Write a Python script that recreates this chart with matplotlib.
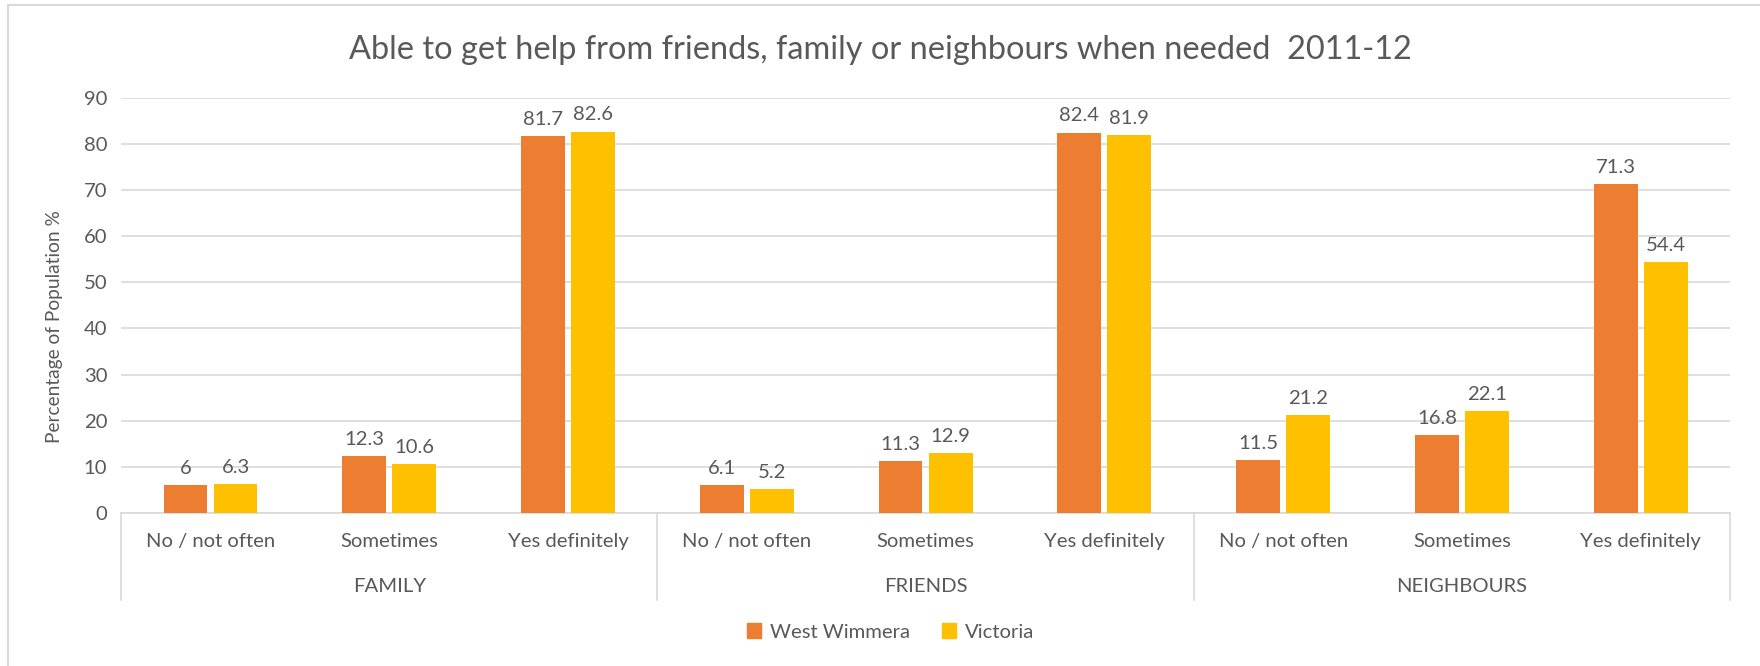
import matplotlib
matplotlib.use("Agg")
import matplotlib.pyplot as plt
from matplotlib.lines import Line2D
from matplotlib.patches import Patch
import numpy as np

groups = ["FAMILY", "FRIENDS", "NEIGHBOURS"]
answers = ["No / not often", "Sometimes", "Yes definitely"]
west_wimmera = [6, 12.3, 81.7, 6.1, 11.3, 82.4, 11.5, 16.8, 71.3]
victoria = [6.3, 10.6, 82.6, 5.2, 12.9, 81.9, 21.2, 22.1, 54.4]
y_ticks = [0, 10, 20, 30, 40, 50, 60, 70, 80, 90]

ORANGE = "#ED7D31"
YELLOW = "#FFC000"
TEXT = "#595959"
GRID = "#D9D9D9"
FS = 14.6

plt.rcParams["font.family"] = ["Lato", "DejaVu Sans"]

fig = plt.figure(figsize=(17.6, 6.66), dpi=100)
ax = fig.add_axes([0.0688, 0.2297, 0.9142, 0.6238])

x = np.arange(len(west_wimmera))
w = 0.245
off = 0.14
b1 = ax.bar(x - off, west_wimmera, w, color=ORANGE, zorder=3)
b2 = ax.bar(x + off, victoria, w, color=YELLOW, zorder=3)
for bars in (b1, b2):
    ax.bar_label(bars, labels=[f"{v:g}" for v in bars.datavalues],
                 padding=6, fontsize=FS, color=TEXT)

ax.set_xlim(-0.5, len(x) - 0.5)
ax.set_ylim(0, 90)
ax.set_yticks(y_ticks)
ax.tick_params(axis="y", length=0, labelsize=FS, labelcolor=TEXT, pad=10)
ax.tick_params(axis="x", length=0)
ax.set_xticks([])
ax.grid(axis="y", color=GRID, linewidth=1.2, zorder=0)
for s in ["top", "right", "left"]:
    ax.spines[s].set_visible(False)
ax.spines["bottom"].set_color(GRID)
ax.spines["bottom"].set_linewidth(1.2)

trans = ax.get_xaxis_transform()
for i, xi in enumerate(x):
    ax.text(xi, -0.068, answers[i % 3], transform=trans, ha="center", va="center",
            fontsize=FS, color=TEXT)
for g, name in enumerate(groups):
    ax.text(3 * g + 1, -0.176, name, transform=trans, ha="center", va="center",
            fontsize=FS, color=TEXT)
for bx in [-0.5, 2.5, 5.5, 8.5]:
    ax.plot([bx, bx], [0, -0.21], transform=trans, color=GRID, linewidth=1.2,
            clip_on=False)

fig.text(0.5, 0.925, "Able to get help from friends, family or neighbours when needed  2011-12",
         ha="center", va="center", fontsize=23.4, color=TEXT)
fig.text(0.031, 0.51, "Percentage of Population %", rotation=90, ha="center",
         va="center", fontsize=13.8, color=TEXT)

handles = [Patch(color=ORANGE), Patch(color=YELLOW)]
fig.legend(handles, ["West Wimmera", "Victoria"], loc="center",
           bbox_to_anchor=(0.506, 0.051), ncol=2, frameon=False, fontsize=FS,
           labelcolor=TEXT, handlelength=0.7, handleheight=0.7, columnspacing=1.6,
           handletextpad=0.4)

# light chart-area border (top and left edges visible in the reference)
fig.add_artist(Line2D([0.0045, 0.0045], [0, 0.992], color=GRID, linewidth=1.5))
fig.add_artist(Line2D([0.0045, 1], [0.992, 0.992], color=GRID, linewidth=1.5))

fig.savefig("out.png", dpi=100)
